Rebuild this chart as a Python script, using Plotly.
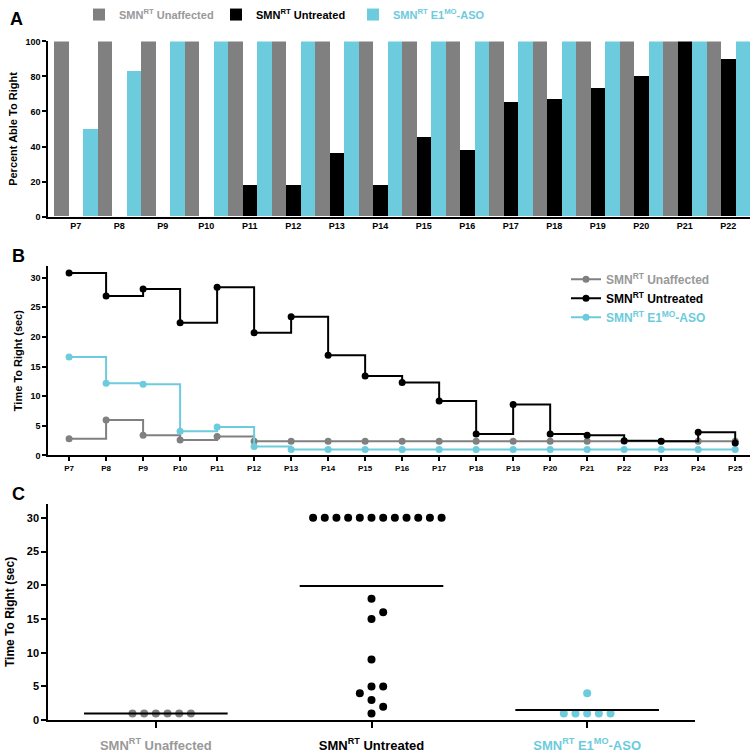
import plotly.graph_objects as go

# ---------------- data ----------------
days_a = ["P7","P8","P9","P10","P11","P12","P13","P14","P15","P16","P17","P18","P19","P20","P21","P22"]
pct_unaffected = [100]*16
pct_untreated = [0,0,0,0,18,18,36,18,45,38,65,67,73,80,100,90]
pct_aso = [50,83,100,100,100,100,100,100,100,100,100,100,100,100,100,100]

days_b = ["P7","P8","P9","P10","P11","P12","P13","P14","P15","P16","P17","P18","P19","P20","P21","P22","P23","P24","P25"]
time_unaffected = [2.8,6.0,3.4,2.6,3.2,2.4,2.4,2.4,2.4,2.4,2.4,2.4,2.4,2.4,2.4,2.4,2.4,2.4,2.4]
time_untreated = [30.8,26.9,28.1,22.4,28.4,20.7,23.4,16.9,13.4,12.3,9.2,3.6,8.6,3.6,3.4,2.5,2.4,3.9,2.1]
time_aso = [16.6,12.2,12.0,4.1,4.8,1.5,1.0,1.0,1.0,1.0,1.0,1.0,1.0,1.0,1.0,1.0,1.0,1.0,1.0]

groups_c = ["Unaffected","Untreated","ASO"]
c_unaffected = [1,1,1,1,1,1]
c_untreated = [30,30,30,30,30,30,30,30,30,30,30,30,18,16,15,9,5,5,4,3,2,1]
c_aso = [1,1,1,1,1,4]

GREY = "#808080"
GREY_TXT = "#999999"
BLACK = "#000000"
CYAN = "#6ccbdc"
FONT = "Liberation Sans, Arial, sans-serif"

W, H = 753, 756
def px_x(p): return p / W
def px_y(p): return 1 - p / H

lbl_unaff = 'SMN<sup>RT</sup> Unaffected'
lbl_untr = 'SMN<sup>RT</sup> Untreated'
lbl_aso = 'SMN<sup>RT</sup> E1<sup>MO</sup>-ASO'
def col(t, c): return f'<span style="color:{c}">{t}</span>'

fig = go.Figure()

# ---------------- panel A ----------------
for name, vals, c, tc in [(lbl_unaff, pct_unaffected, GREY, GREY_TXT), (lbl_untr, pct_untreated, BLACK, BLACK), (lbl_aso, pct_aso, CYAN, CYAN)]:
    fig.add_trace(go.Bar(x=days_a, y=vals, name=col(name, tc), marker=dict(color=c, line=dict(width=0)),
                         xaxis="x", yaxis="y", legend="legend"))

# ---------------- panel B ----------------
for name, vals, c, tc, rank in [(lbl_unaff, time_unaffected, GREY, GREY_TXT, 1), (lbl_aso, time_aso, CYAN, CYAN, 3), (lbl_untr, time_untreated, BLACK, BLACK, 2)]:
    fig.add_trace(go.Scatter(x=days_b, y=vals, name=col(name, tc), mode="lines+markers",
                             line=dict(color=c, width=2, shape="hv"), marker=dict(color=c, size=7),
                             xaxis="x2", yaxis="y2", legend="legend2", legendrank=rank))

# ---------------- panel C (beeswarm) ----------------
SLOT_PX = 11.7
YPX = 6.86
XPX = 216.0

def swarm(vals):
    placed = []
    offsets = [0.0] * len(vals)
    order = sorted(range(len(vals)), key=lambda i: vals[i])
    for i in order:
        y = vals[i]
        def ok(s):
            for s2, y2 in placed:
                dx = (s - s2) * SLOT_PX
                dy = (y - y2) * YPX
                if dx * dx + dy * dy < SLOT_PX * SLOT_PX - 1e-6:
                    return False
            return True
        near = [s2 for s2, y2 in placed if abs(y - y2) * YPX < 2 * SLOT_PX]
        pos = sum(1 for s in near if s > 0)
        neg = sum(1 for s in near if s < 0)
        k = 0
        found = None
        while found is None:
            cands = [0] if k == 0 else ([k, -k] if pos <= neg else [-k, k])
            for cnd in cands:
                if ok(cnd):
                    found = cnd
                    break
            k += 1
        placed.append((found, y))
        offsets[i] = found * SLOT_PX / XPX
    return offsets

for gi, (vals, c) in enumerate([(c_unaffected, GREY), (c_untreated, BLACK), (c_aso, CYAN)]):
    offs = swarm(vals)
    fig.add_trace(go.Scatter(x=[gi + o for o in offs], y=vals, mode="markers",
                             marker=dict(color=c, size=8), showlegend=False, xaxis="x3", yaxis="y3"))
    m = sum(vals) / len(vals)
    fig.add_trace(go.Scatter(x=[gi - 0.333, gi + 0.333], y=[m, m], mode="lines",
                             line=dict(color=BLACK, width=2), showlegend=False, xaxis="x3", yaxis="y3"))

axis_common = dict(showline=True, linecolor="black", linewidth=1.5, showgrid=False, zeroline=False,
                   ticks="outside", tickcolor="black", tickwidth=1.5)

fig.update_layout(
    width=W, height=H, margin=dict(l=0, r=0, t=0, b=0),
    paper_bgcolor="white", plot_bgcolor="white",
    font=dict(family=FONT, color="black"),
    barmode="group", bargap=0, bargroupgap=0,
    xaxis=dict(domain=[px_x(48), px_x(750)], anchor="y", range=[-0.64, 15.5], ticks="",
               showline=True, linecolor="black", linewidth=1.5, showgrid=False,
               tickfont=dict(size=9, weight="bold")),
    yaxis=dict(domain=[px_y(214), px_y(36)], anchor="x", range=[0, 100], tickvals=[0,20,40,60,80,100],
               tickfont=dict(size=9, weight="bold"), ticklen=4,
               title=dict(text="Percent Able To Right", font=dict(size=11, weight="bold"), standoff=6),
               **axis_common),
    xaxis2=dict(domain=[px_x(48), px_x(750)], anchor="y2", range=[-0.57, 18.4], ticklen=4,
                tickfont=dict(size=8, weight="bold"), **axis_common),
    yaxis2=dict(domain=[px_y(456.7), px_y(264)], anchor="x2", range=[0, 32], tickvals=[0,5,10,15,20,25,30],
                tickfont=dict(size=9, weight="bold"), ticklen=4,
                title=dict(text="Time To Right (sec)", font=dict(size=11, weight="bold"), standoff=6),
                **axis_common),
    xaxis3=dict(domain=[px_x(48), px_x(695)], anchor="y3", range=[-0.5, 2.5], tickvals=[0,1,2],
                ticktext=[col(lbl_unaff, GREY_TXT), col(lbl_untr, BLACK), col(lbl_aso, CYAN)],
                tickfont=dict(size=13, weight="bold"), ticklen=6, ticklabelstandoff=6, **axis_common),
    yaxis3=dict(domain=[px_y(725.7), px_y(505.7)], anchor="x3", range=[0, 32.1], tickvals=[0,5,10,15,20,25,30],
                tickfont=dict(size=11, weight="bold"), ticklen=5,
                title=dict(text="Time To Right (sec)", font=dict(size=12, weight="bold"), standoff=10),
                **axis_common),
    legend=dict(orientation="h", x=px_x(79), xanchor="left", y=1.008, yanchor="top",
                font=dict(size=11, weight="bold"), entrywidth=92, entrywidthmode="pixels",
                bgcolor="rgba(0,0,0,0)", itemwidth=30),
    legend2=dict(orientation="v", x=px_x(566), xanchor="left", y=px_y(263), yanchor="top",
                 font=dict(size=12, weight="bold"), bgcolor="rgba(0,0,0,0)", itemwidth=30,
                 tracegroupgap=0),
    annotations=[
        dict(text="<b>A</b>", x=px_x(8), y=px_y(1), xref="paper", yref="paper", xanchor="left", yanchor="top",
             showarrow=False, font=dict(size=18)),
        dict(text="<b>B</b>", x=px_x(10), y=px_y(242), xref="paper", yref="paper", xanchor="left", yanchor="top",
             showarrow=False, font=dict(size=18)),
        dict(text="<b>C</b>", x=px_x(10), y=px_y(484), xref="paper", yref="paper", xanchor="left", yanchor="top",
             showarrow=False, font=dict(size=18)),
    ],
)

fig.write_html("out.html", config={"displayModeBar": False},
               post_script="document.body.style.margin='0';document.body.style.overflow='hidden';")
